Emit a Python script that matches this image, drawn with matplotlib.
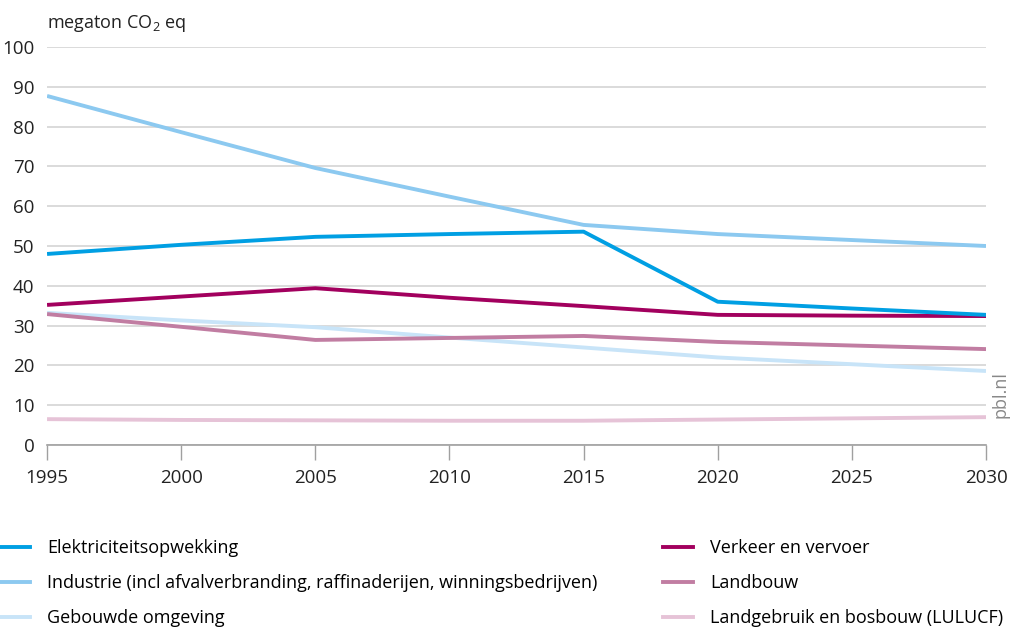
import matplotlib.pyplot as plt
from matplotlib.lines import Line2D

plt.rcParams['font.family'] = ['Open Sans', 'DejaVu Sans']
plt.rcParams['mathtext.default'] = 'regular'

years = [1995, 2000, 2005, 2010, 2015, 2020, 2025, 2030]

elektriciteit = [48.0, 50.3, 52.3, 53.0, 53.6, 36.0, 34.3, 32.7]
industrie = [87.7, 78.6, 69.6, 62.4, 55.3, 53.0, 51.5, 50.0]
gebouwde = [33.2, 31.3, 29.6, 27.0, 24.5, 22.0, 20.3, 18.6]
verkeer = [35.2, 37.3, 39.4, 37.0, 34.9, 32.7, 32.5, 32.4]
landbouw = [32.9, 29.7, 26.4, 26.9, 27.4, 25.9, 25.0, 24.1]
lulucf = [6.5, 6.3, 6.2, 6.1, 6.1, 6.4, 6.7, 7.0]

series = [
    ('Elektriciteitsopwekking', elektriciteit, '#009fe3'),
    ('Industrie (incl afvalverbranding, raffinaderijen, winningsbedrijven)', industrie, '#8cc9f0'),
    ('Gebouwde omgeving', gebouwde, '#c8e4f8'),
    ('Verkeer en vervoer', verkeer, '#a2005e'),
    ('Landbouw', landbouw, '#c17da2'),
    ('Landgebruik en bosbouw (LULUCF)', lulucf, '#e6c3d7'),
]

fig = plt.figure(figsize=(10.14, 6.29), dpi=100)
ax = fig.add_axes([0.0464, 0.2925, 0.926, 0.6328])

# draw order: light ones first
for name, vals, col in [series[5], series[2], series[4], series[3], series[1], series[0]]:
    ax.plot(years, vals, color=col, lw=2.8, solid_capstyle='butt', zorder=3)

ax.set_xlim(1995, 2030)
ax.set_ylim(0, 100)
ax.set_yticks(range(0, 101, 10))
ax.set_xticks(range(1995, 2031, 5))
ax.grid(axis='y', color='#d4d4d4', lw=1.2)
ax.grid(axis='x', visible=False)
for s in ['top', 'right', 'left']:
    ax.spines[s].set_visible(False)
ax.spines['bottom'].set_color('#a0a0a0')
ax.spines['bottom'].set_linewidth(1.2)
ax.tick_params(axis='y', length=0, pad=9, labelsize=13.5, colors='#222222')
ax.tick_params(axis='x', length=11, width=1.0, color='#a0a0a0', pad=6,
               labelsize=13.5, labelcolor='#222222')

fig.text(0.0464, 0.946, 'megaton CO$_2$ eq', fontsize=13, color='#222222', va='bottom')
fig.text(0.987, 0.335, 'pbl.nl', rotation=90, fontsize=13, color='#888888',
         ha='center', va='bottom')

handles = [Line2D([], [], color=c, lw=2.8) for _, _, c in series]
labels = [n for n, _, _ in series]
leg_kw = dict(loc='upper left', frameon=False, fontsize=13, handlelength=1.66,
              handletextpad=0.94, labelspacing=0.94, borderaxespad=0, borderpad=0)
fig.legend(handles[:3], labels[:3], bbox_to_anchor=(0.0, 0.143), **leg_kw)
fig.legend(handles[3:], labels[3:], bbox_to_anchor=(0.654, 0.143), **leg_kw)

fig.savefig('out.png', dpi=100)
